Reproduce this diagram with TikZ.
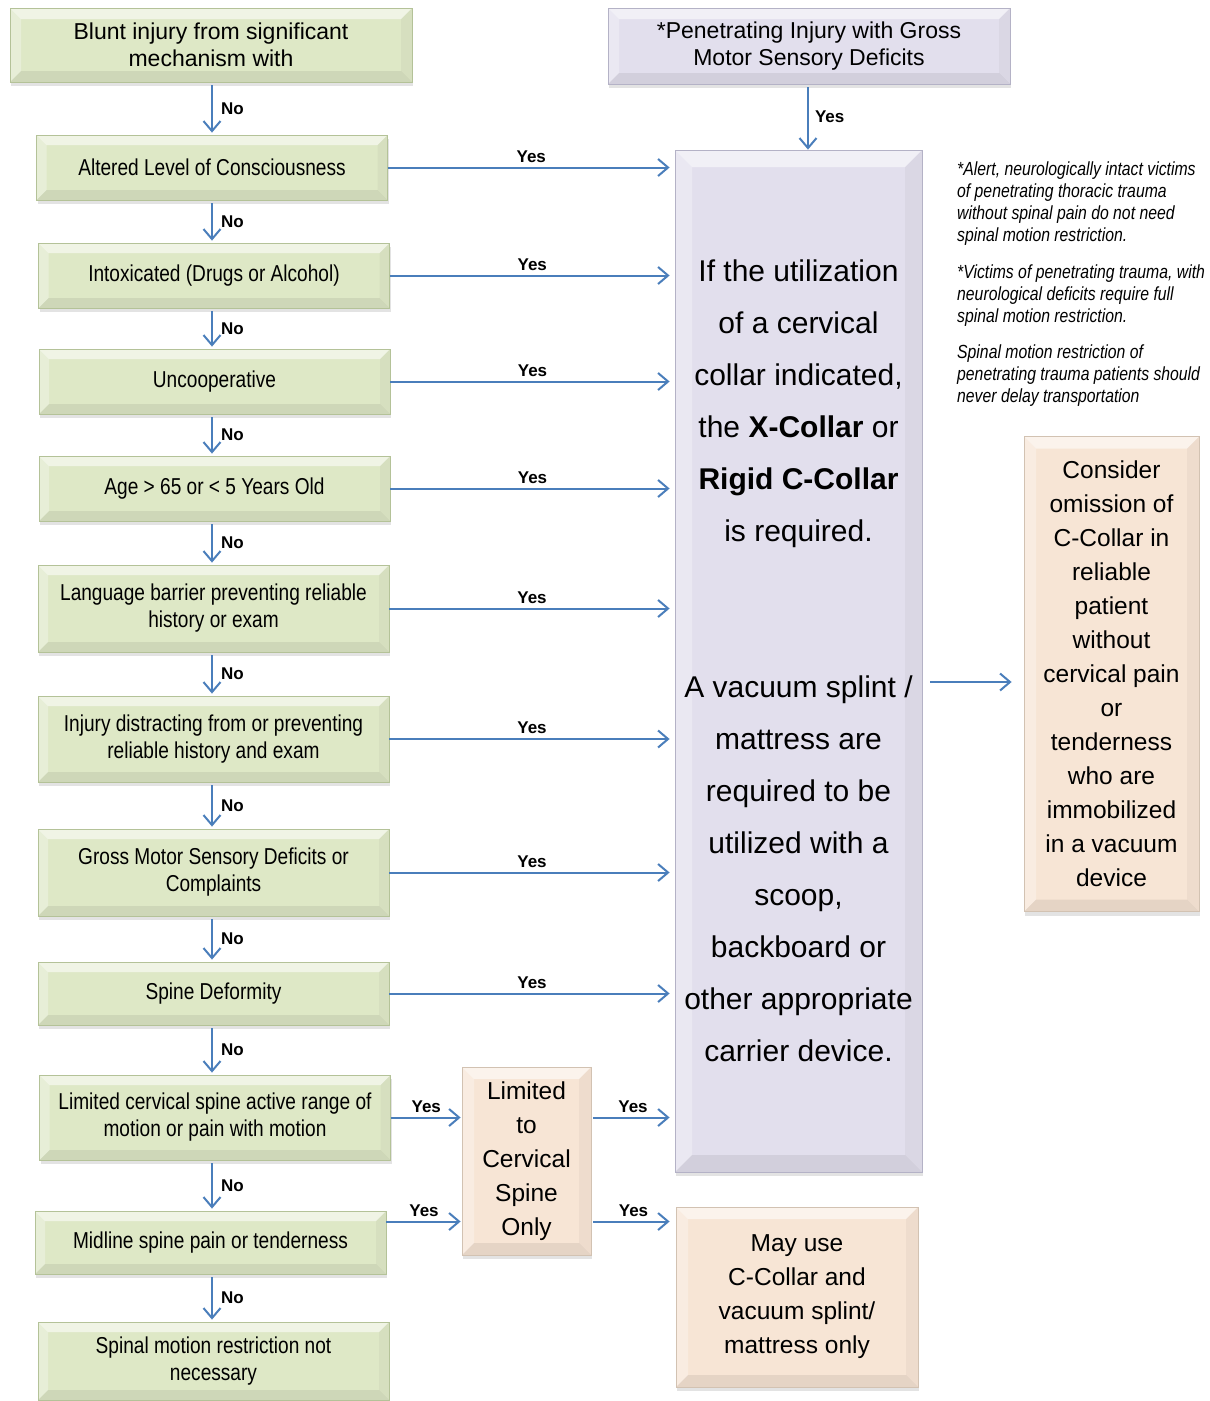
\documentclass[tikz,border=0pt]{standalone}
\usepackage{fontspec}
\setmainfont{Liberation Sans}
\newfontfamily\narrowfont{Liberation Sans}[FakeStretch=0.83]
\usetikzlibrary{arrows.meta,shadows}

\definecolor{boxgreen}{RGB}{222,232,198}
\definecolor{edgegreen}{RGB}{180,194,152}
\definecolor{boxlilac}{RGB}{226,223,237}
\definecolor{edgelilac}{RGB}{180,178,198}
\definecolor{boxpeach}{RGB}{247,229,213}
\definecolor{edgepeach}{RGB}{210,194,178}
\definecolor{arrowblue}{RGB}{74,126,187}

\tikzset{
  bevel/.style={path picture={
    \coordinate (bnw) at (path picture bounding box.north west);
    \coordinate (bne) at (path picture bounding box.north east);
    \coordinate (bse) at (path picture bounding box.south east);
    \coordinate (bsw) at (path picture bounding box.south west);
    \fill[white,opacity=.55] (bnw) -- (bne) -- ([shift={(-#1,-#1)}]bne) -- ([shift={(#1,-#1)}]bnw) -- cycle;
    \fill[white,opacity=.3] (bnw) -- ([shift={(#1,-#1)}]bnw) -- ([shift={(#1,#1)}]bsw) -- (bsw) -- cycle;
    \fill[black,opacity=.07] (bsw) -- ([shift={(#1,#1)}]bsw) -- ([shift={(-#1,#1)}]bse) -- (bse) -- cycle;
    \fill[black,opacity=.035] (bne) -- (bse) -- ([shift={(-#1,#1)}]bse) -- ([shift={(-#1,-#1)}]bne) -- cycle;
  }},
  bevel/.default=11pt,
  card/.style={draw=#1, line width=0.8pt, align=center, inner sep=0pt,
    drop shadow={shadow xshift=1pt, shadow yshift=-4pt, opacity=.22}},
  greenbox/.style={card=edgegreen, fill=boxgreen, bevel=10pt,
    minimum width=351pt, minimum height=65pt,
    font=\narrowfont\fontsize{23}{27}\selectfont},
  lilacbox/.style={card=edgelilac, fill=boxlilac, bevel=11pt,
    font=\fontsize{23}{27}\selectfont},
  peachbox/.style={card=edgepeach, fill=boxpeach, bevel=12pt,
    font=\fontsize{24.5}{34}\selectfont},
  flow/.style={draw=arrowblue, line width=2pt,
    -{Straight Barb[length=10pt,width=17pt,line width=2pt]}},
  answer/.style={font=\bfseries\fontsize{17}{19}\selectfont, inner sep=2pt},
  remark/.style={anchor=north west, align=left, inner sep=0pt,
    font=\narrowfont\itshape\fontsize{19}{22}\selectfont}
}

\begin{document}
\begin{tikzpicture}[x=1pt, y=-1pt]

    \useasboundingbox (0,0) rectangle (1210,1401);

    % --- Entry boxes ---
    \node[greenbox, bevel=11pt, minimum width=402pt, minimum height=74pt,
          font=\fontsize{23}{27}\selectfont] (blunt) at (211,45)
        {Blunt injury from significant\\mechanism with};
    \node[lilacbox, minimum width=402pt, minimum height=76pt] (pen) at (809,46)
        {*Penetrating Injury with Gross\\Motor Sensory Deficits};

    % --- Left column of questions ---
    \node[greenbox] (alc) at (212,167.5) {Altered Level of Consciousness};
    \node[greenbox] (intox) at (214,275.5) {Intoxicated (Drugs or Alcohol)};
    \node[greenbox] (uncoop) at (214.5,381.5) {Uncooperative};
    \node[greenbox] (age) at (214.5,488.5) {Age > 65 or < 5 Years Old};
    \node[greenbox, minimum height=87pt] (lang) at (213.5,608.5)
        {Language barrier preventing reliable\\history or exam};
    \node[greenbox, minimum height=86pt] (distr) at (213.5,739)
        {Injury distracting from or preventing\\reliable history and exam};
    \node[greenbox, minimum height=87pt] (gross) at (213.5,872.5)
        {Gross Motor Sensory Deficits or\\Complaints};
    \node[greenbox, minimum height=63pt] (deform) at (213.5,993.5) {Spine Deformity};
    \node[greenbox, minimum height=85pt] (lcs) at (215,1117.5)
        {Limited cervical spine active range of\\motion or pain with motion};
    \node[greenbox, minimum height=63pt] (mid) at (210.5,1242.5) {Midline spine pain or tenderness};
    \node[greenbox, minimum height=78pt] (srnn) at (213.5,1361)
        {Spinal motion restriction not\\necessary};

    % --- Outcome boxes ---
    \node[lilacbox, bevel=17pt, minimum width=247pt, minimum height=1022pt,
          font=\fontsize{30}{52}\selectfont] (big) at (798.5,661)
        {If the utilization\\of a cervical\\collar indicated,\\the \textbf{X-Collar} or\\\textbf{Rigid C-Collar}\\is required.\\[104pt]
         A vacuum splint /\\mattress are\\required to be\\utilized with a\\scoop,\\backboard or\\other appropriate\\carrier device.};
    \node[peachbox, minimum width=129pt, minimum height=188pt] (ltd) at (526.5,1161)
        {Limited\\to\\Cervical\\Spine\\Only};
    \node[peachbox, minimum width=175pt, minimum height=475pt] (con) at (1111.5,674)
        {Consider\\omission of\\C-Collar in\\reliable\\patient\\without\\cervical pain\\or\\tenderness\\who are\\immobilized\\in a vacuum\\device};
    \node[peachbox, minimum width=242pt, minimum height=180pt] (may) at (797,1297)
        {May use\\C-Collar and\\vacuum splint/\\mattress only};

    % --- Notes on penetrating trauma ---
    \node[remark] (note1) at (957,162)
        {*Alert, neurologically intact victims\\of penetrating thoracic trauma\\without spinal pain do not need\\spinal motion restriction.};
    \node[remark] (note2) at (957,265)
        {*Victims of penetrating trauma, with\\neurological deficits require full\\spinal motion restriction.};
    \node[remark] (note3) at (957,345)
        {Spinal motion restriction of\\penetrating trauma patients should\\never delay transportation};

    % --- No chain down the left ---
    \foreach \a/\b in {blunt/alc, alc/intox, intox/uncoop, uncoop/age, age/lang,
                       lang/distr, distr/gross, gross/deform, deform/lcs, lcs/mid, mid/srnn}
        \draw[flow, shorten <=3pt, shorten >=2pt] (212,0 |- \a.south) -- node[answer, right=6pt] {No} (212,0 |- \b.north);

    % --- Yes arrows into the big box ---
    \foreach \a in {alc, intox, uncoop, age, lang, distr, gross, deform}
        \draw[flow, shorten >=5pt] (\a.east) -- node[answer, above=2pt] {Yes} (\a.east -| big.west);
    \draw[flow, shorten <=3pt] (pen.south -| 808,0) -- node[answer, right=4pt] {Yes} (big.north -| 808,0);

    % --- Cervical branch ---
    \coordinate (midyes) at ([yshift=21pt]mid.east);
    \draw[flow, shorten >=1pt] (lcs.east) -- node[answer, above=2pt] {Yes} (lcs.east -| ltd.west);
    \draw[flow, shorten >=1pt] (midyes) -- node[answer, above=2pt] {Yes} (midyes -| ltd.west);
    \draw[flow, shorten <=2pt, shorten >=5pt] (ltd.east |- lcs.east) -- node[answer, above=2pt] {Yes} (lcs.east -| big.west);
    \draw[flow, shorten <=2pt, shorten >=6pt] (ltd.east |- midyes) -- node[answer, above=2pt] {Yes} (midyes -| may.west);

    % --- Big box to the omission box ---
    \draw[flow, shorten <=8pt, shorten >=12pt] (big.east |- 0,682) -- (con.west |- 0,682);

\end{tikzpicture}
\end{document}
